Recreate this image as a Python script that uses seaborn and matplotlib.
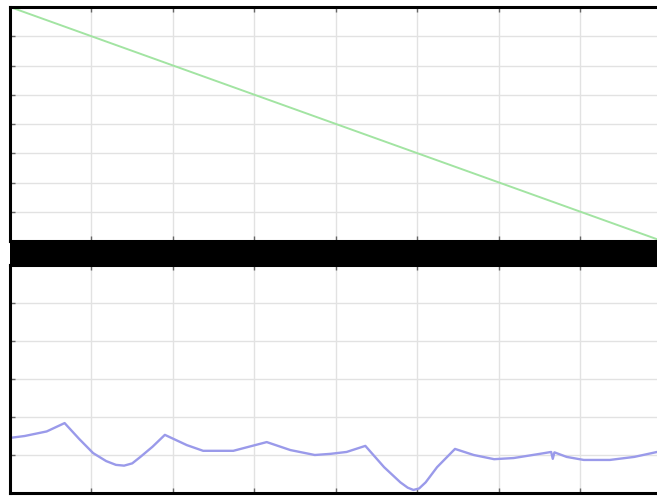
import numpy as np
import pandas as pd
import matplotlib
matplotlib.use("Agg")
import matplotlib.pyplot as plt
from matplotlib.patches import Rectangle
import seaborn as sns

# Upper panel: straight decreasing trace
top_x = [0.0, 8.0]
top_y = [8.0, 0.0]

# Lower panel: oscillating trace
bottom_x = [0.00, 0.18, 0.45, 0.67, 0.85, 1.02, 1.18, 1.30, 1.40, 1.50, 1.60,
            1.75, 1.90, 2.17, 2.37, 2.74, 3.15, 3.44, 3.74, 3.93, 4.13, 4.36,
            4.59, 4.79, 4.88, 4.95, 5.02, 5.10, 5.24, 5.46, 5.69, 5.94, 6.18,
            6.50, 6.64, 6.66, 6.68, 6.83, 7.04, 7.36, 7.66, 7.94]
bottom_y = [1.45, 1.50, 1.62, 1.84, 1.42, 1.05, 0.84, 0.74, 0.72, 0.78, 0.95,
            1.22, 1.53, 1.26, 1.11, 1.11, 1.34, 1.13, 1.00, 1.03, 1.08, 1.24,
            0.68, 0.28, 0.14, 0.08, 0.12, 0.28, 0.68, 1.16, 1.00, 0.89, 0.92,
            1.03, 1.08, 0.90, 1.07, 0.95, 0.87, 0.87, 0.95, 1.08]

x_ticks = np.arange(0, 9)
top_yticks = np.arange(0, 9)
bottom_yticks = np.arange(0, 7)

sns.set_style("whitegrid")
W, H = 657, 497
fig = plt.figure(figsize=(W / 100, H / 100), dpi=100)
fig.patch.set_facecolor("white")


def frac(px_left, px_top, px_right, px_bottom):
    return [px_left / W, 1 - px_bottom / H, (px_right - px_left) / W, (px_bottom - px_top) / H]


ax_top = fig.add_axes(frac(10, 7, 662, 241))
ax_bot = fig.add_axes(frac(10, 265, 662, 493))

sns.lineplot(x=top_x, y=top_y, ax=ax_top, color="#a2e4a2", linewidth=1.4)
sns.lineplot(x=bottom_x, y=bottom_y, ax=ax_bot, color="#9a9aea", linewidth=1.7)

for ax, yt in ((ax_top, top_yticks), (ax_bot, bottom_yticks)):
    ax.set_xlim(x_ticks[0], x_ticks[-1])
    ax.set_ylim(yt[0], yt[-1])
    ax.set_xticks(x_ticks)
    ax.set_yticks(yt)
    ax.set_xticklabels([])
    ax.set_yticklabels([])
    ax.set_xlabel("")
    ax.set_ylabel("")
    ax.grid(True, color="#e2e2e2", linewidth=1.0)
    ax.tick_params(direction="in", length=3.5, width=1.0, color="#666666",
                   top=True, bottom=True, left=True, right=False)
    for side in ("top", "bottom", "left"):
        ax.spines[side].set_visible(True)
        ax.spines[side].set_color("black")
        ax.spines[side].set_linewidth(2.2)
    ax.spines["right"].set_visible(False)

# dark separator bar between the two panels
fig.patches.append(Rectangle((10 / W, 1 - 265 / H), 1.0, 24 / H,
                             transform=fig.transFigure, facecolor="black",
                             edgecolor="none", zorder=5))

fig.savefig("out.png", dpi=100, facecolor="white")
